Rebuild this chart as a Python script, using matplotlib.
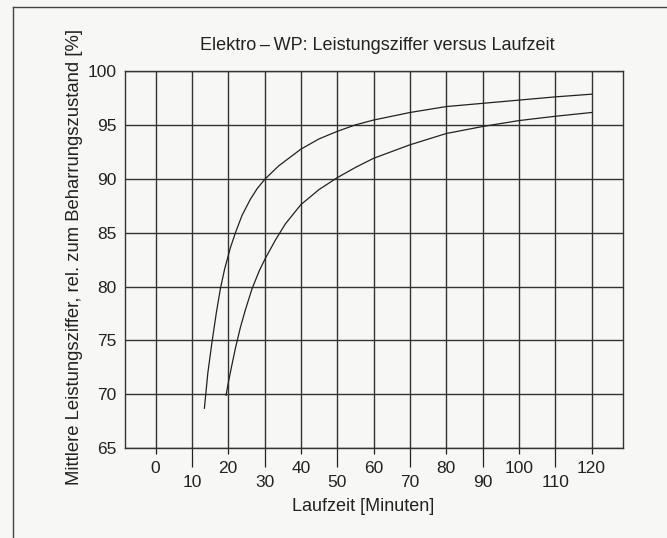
import matplotlib
matplotlib.use("Agg")
import matplotlib.pyplot as plt
from matplotlib.lines import Line2D

plt.rcParams['font.family'] = ['Liberation Sans', 'DejaVu Sans']

# Daten (Laufzeit in Minuten, Leistungsziffer in %)
laufzeit_a = [13.45, 14.4, 15.56, 16.75, 17.85, 19.0, 20.6, 22.0, 23.8, 26.1, 28, 30.2,
              33.9, 40, 45, 50, 55, 60, 70, 80, 90, 100, 110, 120]
ziffer_a = [68.7, 72.0, 74.9, 77.6, 79.8, 81.6, 83.6, 85.0, 86.6, 88.1, 89.1, 90.0,
            91.2, 92.75, 93.7, 94.4, 95.0, 95.45, 96.15, 96.7, 97.0, 97.3, 97.6, 97.85]

laufzeit_b = [19.4, 20.1, 21.0, 22.0, 23.35, 24.7, 26.56, 28.6, 30.2, 32.97, 35.7,
              40, 45, 50, 55, 60, 70, 80, 90, 100, 110, 120]
ziffer_b = [69.9, 71.2, 72.7, 74.3, 76.2, 77.8, 79.8, 81.5, 82.6, 84.3, 85.8,
            87.6, 89.0, 90.1, 91.05, 91.9, 93.15, 94.2, 94.85, 95.4, 95.8, 96.15]

xticks_oben = [0, 20, 40, 60, 80, 100, 120]
xticks_unten = [10, 30, 50, 70, 90, 110]
yticks = [65, 70, 75, 80, 85, 90, 95, 100]

papier = '#f7f7f5'
tinte = '#222222'

fig = plt.figure(figsize=(6.67, 5.38), dpi=100, facecolor=papier)
ax = fig.add_axes([0.1874, 0.167, 0.7459, 0.701])
ax.set_facecolor(papier)

ax.plot(laufzeit_a, ziffer_a, color=tinte, lw=0.9)
ax.plot(laufzeit_b, ziffer_b, color=tinte, lw=0.9)

ax.set_xlim(-8.4, 128.5)
ax.set_ylim(65, 100)

ax.set_xticks(xticks_oben)
ax.set_xticks(xticks_unten, minor=True)
ax.set_xticklabels([str(t) for t in xticks_oben])
ax.set_xticklabels([str(t) for t in xticks_unten], minor=True)
ax.set_yticks(yticks)

ax.tick_params(axis='x', which='major', length=4.5, width=0.9, pad=4.5,
               labelsize=12.5, colors=tinte)
ax.tick_params(axis='x', which='minor', length=14, width=0.9, pad=5.5,
               labelsize=12.5, colors=tinte)
ax.tick_params(axis='y', length=0, pad=6, labelsize=12.5, colors=tinte)

ax.grid(True, which='both', axis='x', color='#333333', lw=1.0)
ax.grid(True, which='major', axis='y', color='#333333', lw=1.0)
for s in ax.spines.values():
    s.set_color('#333333')
    s.set_linewidth(1.0)

fig.text(0.565, 0.916, 'Elektro\u2009\u2013\u2009WP: Leistungsziffer versus Laufzeit',
         ha='center', va='center', fontsize=13, color=tinte)
fig.text(0.544, 0.058, 'Laufzeit [Minuten]', ha='center', va='center',
         fontsize=13, color=tinte)
fig.text(0.112, 0.522, 'Mittlere Leistungsziffer, rel. zum Beharrungszustand [%]',
         ha='center', va='center', rotation=90, fontsize=13.3, color=tinte)

# Rahmen der gescannten Abbildung (links und oben)
fig.add_artist(Line2D([13 / 667, 13 / 667], [0, 1 - 7 / 538], transform=fig.transFigure,
                      color='#444444', lw=1.0))
fig.add_artist(Line2D([13 / 667, 1], [1 - 7 / 538, 1 - 7 / 538], transform=fig.transFigure,
                      color='#444444', lw=1.0))

fig.savefig('out.png', dpi=100, facecolor=papier)
